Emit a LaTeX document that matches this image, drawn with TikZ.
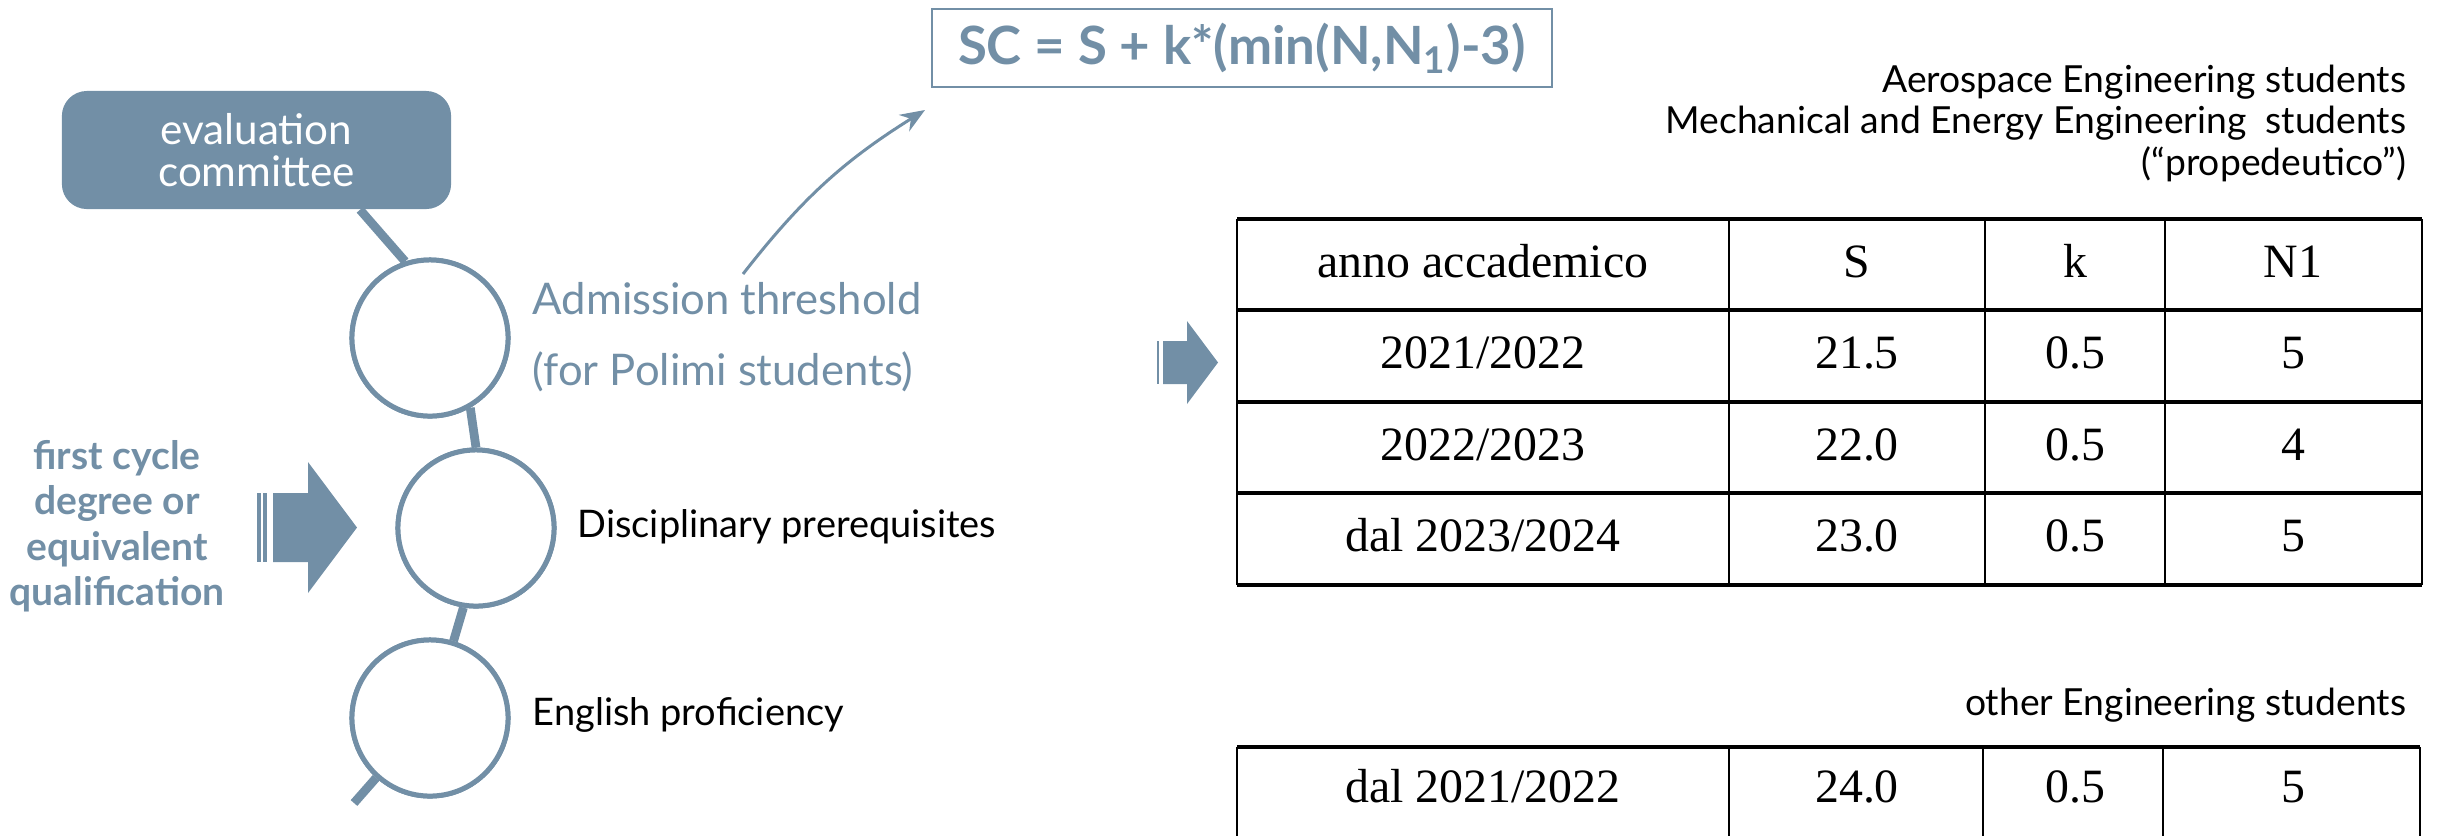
\documentclass[tikz,border=0pt]{standalone}
\usepackage{fontspec}
\setmainfont{Lato}
\newfontfamily\tabfont{Liberation Serif}
\usetikzlibrary{arrows.meta,calc}
\definecolor{slate}{RGB}{114,143,166}
\begin{document}
\begin{tikzpicture}[x=0.01cm,y=-0.01cm,
  evalbox/.style={rounded corners=0.25cm, fill=slate, text=white, minimum width=3.89cm,
    minimum height=1.18cm, align=center, inner sep=0pt,
    font=\fontsize{12}{12}\selectfont},
  ring/.style={circle, draw=slate, line width=1.42pt, fill=white, minimum size=1.56cm, inner sep=0pt},
  link/.style={draw=slate, line width=2.5pt},
  lbl/.style={anchor=base west, inner sep=0pt, font=\fontsize{10.8}{11}\selectfont},
  rtxt/.style={anchor=base east, inner sep=0pt, align=right, font=\fontsize{10.6}{11.7}\selectfont},
  hline/.style={draw=black, line width=1.1pt},
  vline/.style={draw=black, line width=0.8pt},
  tcell/.style={anchor=base, inner sep=0pt, font=\tabfont\fontsize{13.6}{16}\selectfont},
  blk/.style={fill=slate}
]
\useasboundingbox (0,0) rectangle (2445,835);

% evaluation committee
\node[evalbox] (committee) at (256.5,150) {evaluation\\committee};

% rings
\node[ring] (c1) at (430,338) {};
\node[ring] (c2) at (476,528) {};
\node[ring] (c3) at (430,718) {};
\coordinate (tail) at (354,803);

\draw[link] ($(committee.south west)!0.765!(committee.south east)$) -- (c1.108);
\draw[link] (c1.-60) -- (c2.90);
\draw[link] (c2.-99) -- (c3.73);
\draw[link] (c3.-132) -- (tail);
% rings on top of the links
\node[ring] at (c1) {};
\node[ring] at (c2) {};
\node[ring] at (c3) {};

% labels
\node[lbl, text=slate, align=left, font=\fontsize{12.4}{20}\selectfont] (adm) at (532,385)
  {Admission threshold\\(for Polimi students)};
\node[lbl] (disc) at (577,537) {Disciplinary prerequisites};
\node[lbl] (eng) at (532,725) {English proficiency};

% first cycle text
\node[anchor=base, inner sep=0pt, align=center, text=slate,
  font=\bfseries\fontsize{11.1}{12.8}\selectfont] (first) at (117,605)
  {first cycle\\degree or\\equivalent\\qualification};

% big block arrow
\fill[blk] (257,493) rectangle (261,562);
\fill[blk] (263,493) rectangle (267,562);
\fill[blk] (273,493) -- (308,493) -- (308,462) -- (357,527.5) -- (308,593) -- (308,562) -- (273,562) -- cycle;

% formula
\node[draw=slate, line width=0.6pt, minimum width=6.2cm, minimum height=0.78cm, inner sep=0pt,
  text=slate, font=\bfseries\fontsize{15}{17}\selectfont] (formula) at (1242,48)
  {SC = S + k*(min(N,N\textsubscript{1})-3)};

\coordinate (arrstart) at (743,274);
\coordinate (arrend) at (925,110);
\draw[slate, line width=0.85pt, -{Stealth[length=7pt,width=5.5pt]}] (arrstart) to[bend left=10] (arrend);

% right texts
\node[rtxt] (aero) at (2407,175)
  {Aerospace Engineering students\\Mechanical and Energy Engineering\ \ students\\(“propedeutico”)};
\node[rtxt] (other) at (2407,715) {other Engineering students};

% small block arrow
\fill[blk] (1157,341) rectangle (1159,384);
\fill[blk] (1163,341) -- (1187,341) -- (1187,321) -- (1218,362.5) -- (1187,404) -- (1187,384) -- (1163,384) -- cycle;

% table 1
\foreach \yy in {219,310,402,493,585} \draw[hline] (1237,\yy) -- (2422,\yy);
\foreach \xx in {1237,1729,1985,2165,2422} \draw[vline] (\xx,219) -- (\xx,585);
\node[tcell] (h1) at (1483,277) {anno accademico};
\node[tcell] (h2) at (1857,277) {S};
\node[tcell] (h3) at (2075,277) {k};
\node[tcell] (h4) at (2293,277) {N1};
\node[tcell] (a1) at (1483,368) {2021/2022};
\node[tcell] (a2) at (1857,368) {21.5};
\node[tcell] (a3) at (2075,368) {0.5};
\node[tcell] (a4) at (2293,368) {5};
\node[tcell] (b1) at (1483,460) {2022/2023};
\node[tcell] (b2) at (1857,460) {22.0};
\node[tcell] (b3) at (2075,460) {0.5};
\node[tcell] (b4) at (2293,460) {4};
\node[tcell] (d1) at (1483,551) {dal 2023/2024};
\node[tcell] (d2) at (1857,551) {23.0};
\node[tcell] (d3) at (2075,551) {0.5};
\node[tcell] (d4) at (2293,551) {5};

% table 2
\draw[hline] (1237,747) -- (2420,747);
\foreach \xx in {1237,1729,1983,2163,2420} \draw[vline] (\xx,747) -- (\xx,845);
\node[tcell] (e1) at (1483,802) {dal 2021/2022};
\node[tcell] (e2) at (1857,802) {24.0};
\node[tcell] (e3) at (2075,802) {0.5};
\node[tcell] (e4) at (2293,802) {5};
\end{tikzpicture}
\end{document}
